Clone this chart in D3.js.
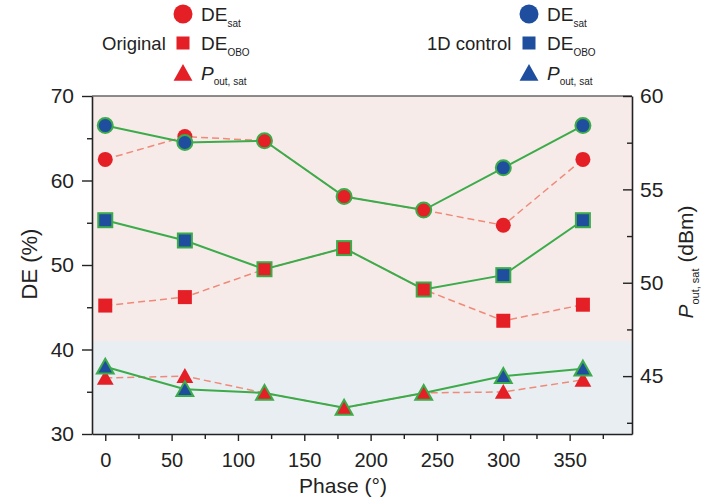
<!DOCTYPE html>
<meta charset="utf-8">
<style>
body{margin:0;background:white;}
text{font-family:'Liberation Sans', Arial, sans-serif;fill:#222;}
</style>
<svg id='svg'></svg>
<script src="https://d3js.org/d3.v7.min.js"></script>
<script>

  var width = 708
  var height = 501

  // phase in degrees
  var phase = [0, 60, 120, 180, 240, 300, 360]
  // original
  var origDEsat = [62.5, 65.2, 64.7, 58.1, 56.5, 54.7, 62.5]
  var origDEobo = [45.2, 46.2, 49.5, 52.0, 47.1, 43.4, 45.3]
  var origPout = [44.9, 45.0, 44.1, 43.3, 44.1, 44.15, 44.8]
  // 1D control
  var ctrlDEsat = [66.5, 64.5, 64.7, 58.1, 56.5, 61.5, 66.5]
  var ctrlDEobo = [55.3, 52.9, 49.5, 52.0, 47.1, 48.8, 55.3]
  var ctrlPout = [45.5, 44.3, 44.1, 43.3, 44.1, 45.0, 45.4]

  var xTicks = [0, 50, 100, 150, 200, 250, 300, 350]
  var yLTicks = [30, 40, 50, 60, 70]
  var yRTicks = [45, 50, 55, 60]
  var bandSplit = 41 // DE value where background changes

  var red = '#e41f26', blue = '#1f4e9e', green = '#3cab4a', dash = '#f08a78'

  var svg = d3.select('svg').attr('width', width).attr('height', height)

  var x = d3.scaleLinear().domain([-10, 397]).range([92, 632])
  var yL = d3.scaleLinear().domain([30, 70]).range([434, 96])
  var yR = d3.scaleLinear().domain([41.9, 60]).range([434, 96])

  // background bands
  svg.append('rect')
    .attr('x', x(-10)).attr('y', yL(70))
    .attr('width', x(397) - x(-10)).attr('height', yL(bandSplit) - yL(70))
    .attr('fill', '#f6ebe9')
  svg.append('rect')
    .attr('x', x(-10)).attr('y', yL(bandSplit))
    .attr('width', x(397) - x(-10)).attr('height', yL(30) - yL(bandSplit))
    .attr('fill', '#e9eef2')

  // frame top
  svg.append('line')
    .attr('x1', x(-10)).attr('x2', x(397))
    .attr('y1', yL(70)).attr('y2', yL(70))
    .attr('stroke', '#666').attr('stroke-width', 1.5)

  // axes
  function styleAxis(g, fs) {
    g.select('.domain').attr('stroke', '#222').attr('stroke-width', 1.6)
    g.selectAll('.tick line').attr('stroke', '#222').attr('stroke-width', 1.4)
    g.selectAll('.tick text').style('font-size', fs + 'px').attr('fill', '#222')
  }

  var gx = svg.append('g').attr('transform', 'translate(0,434)')
    .call(d3.axisBottom(x).tickValues(xTicks).tickSize(7).tickPadding(12).tickSizeOuter(0))
  styleAxis(gx, 20)
  svg.append('g').attr('transform', 'translate(0,434)')
    .call(d3.axisBottom(x).tickValues(d3.range(25, 400, 50)).tickSize(5).tickFormat('').tickSizeOuter(0))
    .call(g => { g.select('.domain').remove(); g.selectAll('line').attr('stroke', '#222').attr('stroke-width', 1.4) })

  var gl = svg.append('g').attr('transform', 'translate(92,0)')
    .call(d3.axisLeft(yL).tickValues(yLTicks).tickSize(10).tickPadding(8).tickSizeOuter(0))
  styleAxis(gl, 21)
  svg.append('g').attr('transform', 'translate(92,0)')
    .call(d3.axisLeft(yL).tickValues([35, 45, 55, 65]).tickSize(5).tickFormat('').tickSizeOuter(0))
    .call(g => { g.select('.domain').remove(); g.selectAll('line').attr('stroke', '#222').attr('stroke-width', 1.4) })

  var gr = svg.append('g').attr('transform', 'translate(632,0)')
    .call(d3.axisRight(yR).tickValues(yRTicks).tickSize(-9).tickPadding(8).tickSizeOuter(0))
  styleAxis(gr, 21)
  svg.append('g').attr('transform', 'translate(632,0)')
    .call(d3.axisRight(yR).tickValues([42.5, 47.5, 52.5, 57.5]).tickSize(-5).tickFormat('').tickSizeOuter(0))
    .call(g => { g.select('.domain').remove(); g.selectAll('line').attr('stroke', '#222').attr('stroke-width', 1.4) })

  // axis titles
  svg.append('text')
    .attr('transform', 'translate(37,264) rotate(-90)')
    .attr('text-anchor', 'middle').style('font-size', '22px')
    .text('DE (%)')
  svg.append('text')
    .attr('x', 343).attr('y', 493)
    .attr('text-anchor', 'middle').style('font-size', '21px')
    .text('Phase (°)')
  var rt = svg.append('text')
    .attr('transform', 'translate(693,262) rotate(-90)')
    .attr('text-anchor', 'middle').style('font-size', '21px')
  rt.append('tspan').style('font-style', 'italic').text('P')
  rt.append('tspan').attr('dy', 6).style('font-size', '11px').text('out, sat')
  rt.append('tspan').attr('dy', -6).text(' (dBm)')

  // markers
  function marker(sel, shape, r) {
    if (shape == 'circle') return sel.append('circle').attr('r', r)
    if (shape == 'square') return sel.append('rect').attr('x', -r).attr('y', -r).attr('width', 2 * r).attr('height', 2 * r)
    return sel.append('path').attr('d', 'M0,' + (-r) + 'L' + (r * 1.05) + ',' + (r * 0.85) + 'L' + (-r * 1.05) + ',' + (r * 0.85) + 'Z')
  }

  var lineL = d3.line().x((d, i) => x(phase[i])).y(d => yL(d))
  var lineR = d3.line().x((d, i) => x(phase[i])).y(d => yR(d))

  var orig = [
    {vals: origDEsat, y: yL, line: lineL, shape: 'circle', r: 7.5},
    {vals: origDEobo, y: yL, line: lineL, shape: 'square', r: 7},
    {vals: origPout, y: yR, line: lineR, shape: 'tri', r: 8}
  ]
  var ctrl = [
    {vals: ctrlDEsat, ref: origDEsat, y: yL, line: lineL, shape: 'circle', r: 7.5},
    {vals: ctrlDEobo, ref: origDEobo, y: yL, line: lineL, shape: 'square', r: 7},
    {vals: ctrlPout, ref: origPout, y: yR, line: lineR, shape: 'tri', r: 8}
  ]

  orig.forEach(s => {
    svg.append('path').attr('d', s.line(s.vals))
      .attr('fill', 'none').attr('stroke', dash).attr('stroke-width', 1.5)
      .attr('stroke-dasharray', '7,4')
  })
  orig.forEach(s => {
    s.vals.forEach((v, i) => {
      var g = svg.append('g').attr('transform', 'translate(' + x(phase[i]) + ',' + s.y(v) + ')')
      marker(g, s.shape, s.r).attr('fill', red)
    })
  })

  ctrl.forEach(s => {
    svg.append('path').attr('d', s.line(s.vals))
      .attr('fill', 'none').attr('stroke', green).attr('stroke-width', 2)
  })
  ctrl.forEach(s => {
    s.vals.forEach((v, i) => {
      var g = svg.append('g').attr('transform', 'translate(' + x(phase[i]) + ',' + s.y(v) + ')')
      marker(g, s.shape, s.r)
        .attr('fill', v == s.ref[i] ? red : blue)
        .attr('stroke', green).attr('stroke-width', 2)
    })
  })

  // legends
  function legend(lx, mx, title, col) {
    svg.append('text').attr('x', lx).attr('y', 50).style('font-size', '18.5px').text(title)
    marker(svg.append('g').attr('transform', 'translate(' + mx + ',14)'), 'circle', 9.5).attr('fill', col)
    marker(svg.append('g').attr('transform', 'translate(' + mx + ',43)'), 'square', 6.5).attr('fill', col)
    marker(svg.append('g').attr('transform', 'translate(' + mx + ',73)'), 'tri', 9).attr('fill', col)
    var tx = mx + 18
    var t1 = svg.append('text').attr('x', tx).attr('y', 21).style('font-size', '19px')
    t1.append('tspan').text('DE')
    t1.append('tspan').attr('dy', 6).style('font-size', '10px').text('sat')
    var t2 = svg.append('text').attr('x', tx).attr('y', 50).style('font-size', '19px')
    t2.append('tspan').text('DE')
    t2.append('tspan').attr('dy', 6).style('font-size', '10px').text('OBO')
    var t3 = svg.append('text').attr('x', tx).attr('y', 80).style('font-size', '19px')
    t3.append('tspan').style('font-style', 'italic').text('P')
    t3.append('tspan').attr('dy', 5).style('font-size', '10px').text('out, sat')
  }
  legend(102, 183, 'Original', red)
  legend(427, 529, '1D control', blue)

</script>
